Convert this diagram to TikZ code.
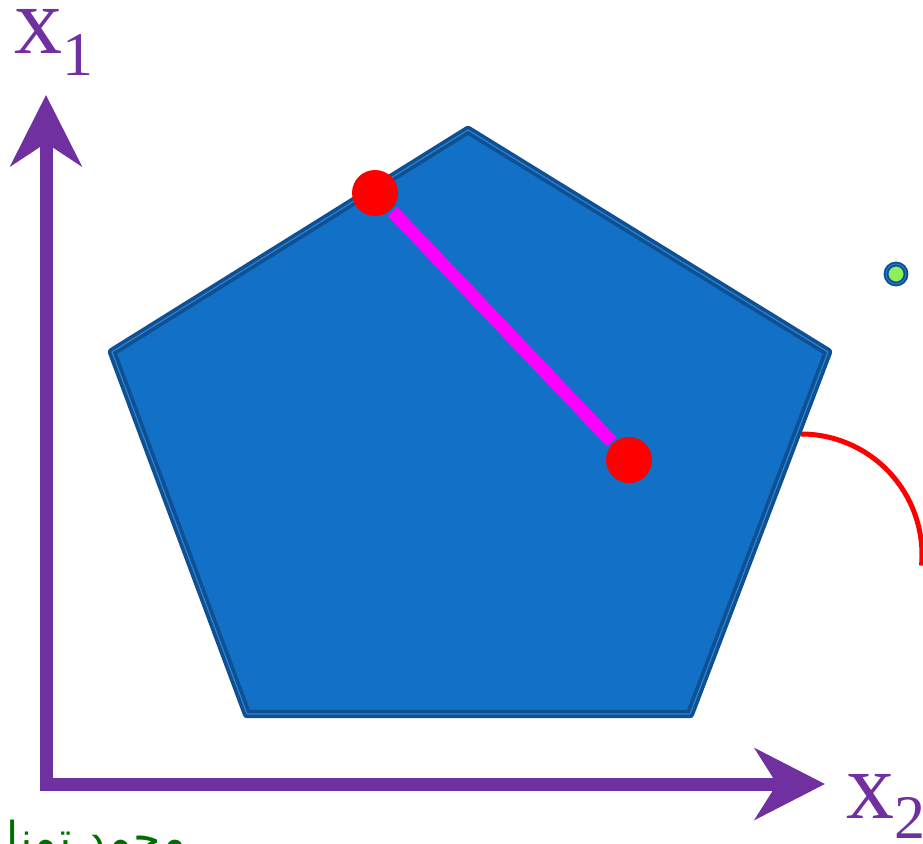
\documentclass[tikz,border=0pt]{standalone}
\usepackage{fontspec}
\setmainfont{Liberation Serif}
\newfontfamily\arabicfont[Script=Arabic]{DejaVu Sans}
\TeXXeTstate=1
\usetikzlibrary{arrows.meta}
\definecolor{axpurple}{RGB}{112,48,160}
\definecolor{setblue}{RGB}{18,112,198}
\definecolor{setedge}{RGB}{14,80,145}
\definecolor{setline}{RGB}{45,128,210}
\definecolor{segpink}{RGB}{255,0,255}
\definecolor{namegreen}{RGB}{0,110,0}
\definecolor{dotgreen}{RGB}{140,240,90}

\begin{document}
\begin{tikzpicture}[
					x=1pt,y=-1pt,
					axis/.style={draw=axpurple,line width=13pt,line join=miter,
						{Stealth[length=71pt,width=71pt,inset=23pt]}-{Stealth[length=70pt,width=71pt,inset=22pt]}},
					axlabel/.style={anchor=base west,inner sep=0pt,text=axpurple,font=\fontsize{96}{96}\selectfont},
					setshape/.style={fill=setblue,draw=setedge,line width=3.6pt,double=setline,double distance=1.2pt,line join=round},
					rpoint/.style={circle,fill=red,inner sep=0pt,minimum size=46pt},
					gpoint/.style={circle,fill=dotgreen,draw=setedge,line width=2pt,double=setline,double distance=0.8pt,inner sep=0pt,minimum size=20pt},
					segm/.style={draw=segpink,line width=13pt,shorten <=2pt,shorten >=2pt},
					rcurve/.style={draw=red,line width=5pt}
					]
					\clip (0,0) rectangle (923,843);
					% axes
					\coordinate (ytip) at (46,95);
					\coordinate (xtip) at (825,784);
					\draw[axis] (ytip) |- (xtip);
					\node[axlabel] (lx1) at (14,53) {x\raisebox{-22pt}{\fontsize{62}{62}\selectfont 1}};
					\node[axlabel] (lx2) at (846,818) {x\raisebox{-20pt}{\fontsize{62}{62}\selectfont 2}};
					% feasible set
					\draw[setshape] (468,130) coordinate (ptop) -- (828,352) coordinate (pright)
						-- (690,714) coordinate (pbr) -- (247,714) coordinate (pbl)
						-- (112,352) coordinate (pleft) -- cycle;
					\node[rpoint] (pa) at (375,193) {};
					\node[rpoint] (pb) at (629,460) {};
					\draw[segm] (pa) -- (pb);
					\node[gpoint] (gp) at (896,274) {};
					\coordinate (arcst) at (801,434);
					\draw[rcurve] (arcst) arc[start angle=-90,end angle=5,radius=121];
					\node[anchor=base east,inner sep=0pt,text=namegreen,font=\arabicfont\fontsize{44}{44}\selectfont] (author) at (186,853) {\beginR محمد تمنا\endR};
				\end{tikzpicture}
\end{document}
